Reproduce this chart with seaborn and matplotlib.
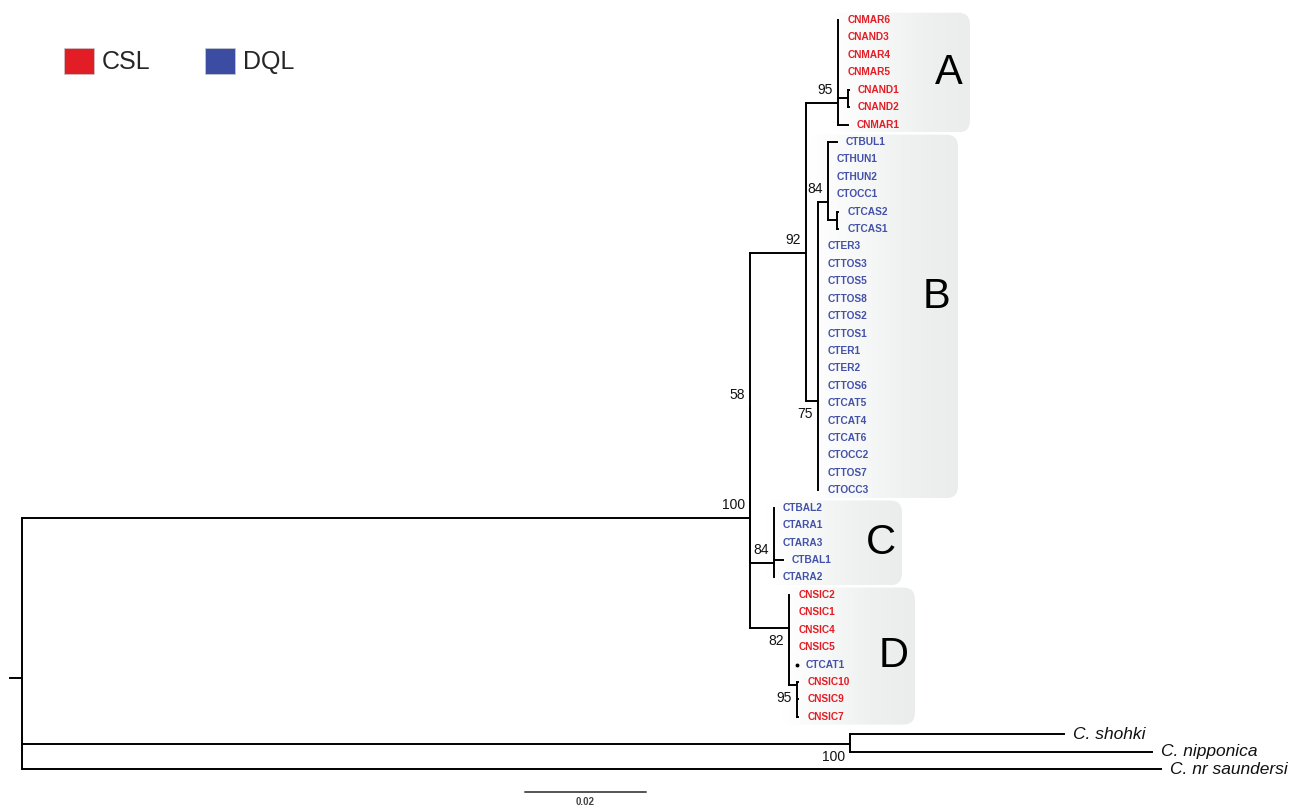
import numpy as np
import pandas as pd
import matplotlib
matplotlib.use("Agg")
import matplotlib.pyplot as plt
import seaborn as sns
from matplotlib.patches import FancyBboxPatch, Patch
from matplotlib.colors import LinearSegmentedColormap

# ---------------- data ----------------
tip_names = ["CNMAR6", "CNAND3", "CNMAR4", "CNMAR5", "CNAND1", "CNAND2", "CNMAR1",
             "CTBUL1", "CTHUN1", "CTHUN2", "CTOCC1", "CTCAS2", "CTCAS1",
             "CTER3", "CTTOS3", "CTTOS5", "CTTOS8", "CTTOS2", "CTTOS1", "CTER1", "CTER2",
             "CTTOS6", "CTCAT5", "CTCAT4", "CTCAT6", "CTOCC2", "CTTOS7", "CTOCC3",
             "CTBAL2", "CTARA1", "CTARA3", "CTBAL1", "CTARA2",
             "CNSIC2", "CNSIC1", "CNSIC4", "CNSIC5", "CTCAT1", "CNSIC10", "CNSIC9", "CNSIC7",
             "C. shohki", "C. nipponica", "C. nr saundersi"]
tip_group = (["CSL"] * 7 + ["DQL"] * 21 + ["DQL"] * 5 + ["CSL"] * 4 + ["DQL"] + ["CSL"] * 3
             + ["OUT"] * 3)
tip_parent = (["A"] * 4 + ["Aand"] * 2 + ["A"]
              + ["B84"] * 4 + ["Bcas"] * 2 + ["B"] * 15
              + ["C"] * 5
              + ["D"] * 5 + ["Dsub"] * 3
              + ["Out", "Out", "root"])
tip_depth = ([0.1349] * 4 + [0.1367] * 2 + [0.1365]
             + [0.1347, 0.1332, 0.1332, 0.1332, 0.1349, 0.1349] + [0.1316] * 15
             + [0.1243, 0.1243, 0.1243, 0.1258, 0.1243]
             + [0.1268] * 4 + [0.1281] + [0.1283] * 3
             + [0.1722, 0.1868, 0.1883])
dot_tips = ["CTCAT1"]

node_names = ["root", "ingroup", "n58", "AB", "A", "Aand", "B", "B84", "Bcas", "C", "D", "Dsub", "Out"]
node_parent = [None, "root", "ingroup", "n58", "AB", "A", "AB", "B", "B84", "n58", "ingroup", "D", "root"]
node_depth = [0.0, 0.1203, 0.1203, 0.1296, 0.1349, 0.1365, 0.1316, 0.1332, 0.1347, 0.1243, 0.1268, 0.1281, 0.1369]
node_row = [37.77, 28.59, 22.3, 13.37, 4.76, 4.5, 21.87, 10.45, 11.5, 31.15, 34.9, 38.17, 41.56]
node_support = [None, 100, 58, 92, 95, None, 75, 84, None, 84, 82, 95, 100]
support_below = ["B", "D", "Dsub", "Out"]
root_stub = -0.002

clade_labels = ["A", "B", "C", "D"]
clade_node = ["A", "B", "C", "D"]
clade_first = ["CNMAR6", "CTBUL1", "CTBAL2", "CNSIC2"]
clade_last = ["CNMAR1", "CTOCC3", "CTARA2", "CNSIC7"]

legend_labels = ["CSL", "DQL"]
scale_length = 0.02

# ---------------- layout / style ----------------
RED = "#e31d25"
BLUE = "#3b4ca2"
TEXT_BLUE = "#4351a8"
PX_X = 1 / 6050.0      # data units per pixel (x)
PX_Y = 1 / 17.42       # rows per pixel (y)

sns.set_theme(style="white")
plt.rcParams["font.family"] = ["Liberation Sans", "DejaVu Sans"]

fig = plt.figure(figsize=(12.92, 8.08), dpi=100)
ax = fig.add_axes([0, 0, 1, 1])

tip_row = {n: i for i, n in enumerate(tip_names)}
ndepth = dict(zip(node_names, node_depth))
nrow = dict(zip(node_names, node_row))

# segments
segs = []
sid = 0
def add(x0, y0, x1, y1):
    global sid
    segs.append({"seg": sid, "x": x0, "y": y0})
    segs.append({"seg": sid, "x": x1, "y": y1})
    sid += 1

children_rows = {n: [] for n in node_names}
for n, p in zip(node_names, node_parent):
    if p is None:
        continue
    children_rows[p].append(nrow[n])
    if ndepth[n] - ndepth[p] > 1e-9:
        add(ndepth[p], nrow[n], ndepth[n], nrow[n])
for t, p, d in zip(tip_names, tip_parent, tip_depth):
    r = tip_row[t]
    children_rows[p].append(r)
    if t in dot_tips:
        continue
    if d - ndepth[p] > 1e-9:
        add(ndepth[p], r, d, r)
for n in node_names:
    rows = children_rows[n]
    if rows:
        add(ndepth[n], min(rows), ndepth[n], max(rows))
add(root_stub, nrow["root"], 0.0, nrow["root"])
seg_df = pd.DataFrame(segs)

# clade background boxes
cmap = LinearSegmentedColormap.from_list("g", ["#ffffff", "#f7f8f8", "#eff1f1", "#ebeded"])
box_right = {"A": 970, "B": 958, "C": 902, "D": 915}
for lab, cn, f, l in zip(clade_labels, clade_node, clade_first, clade_last):
    x0 = ndepth[cn] - 8 * PX_X
    x1 = (box_right[lab] - 22) * PX_X
    r0 = tip_row[f] - 0.42
    r1 = tip_row[l] + 0.45
    patch = FancyBboxPatch((x0, r0), x1 - x0, r1 - r0,
                           boxstyle=f"round,pad=0,rounding_size={12 * PX_X}",
                           mutation_aspect=PX_Y / PX_X,
                           facecolor="none", edgecolor="none", zorder=0)
    ax.add_patch(patch)
    im = ax.imshow(np.linspace(0, 1, 256)[None, :], extent=(x0, x1, r1, r0), cmap=cmap,
                   aspect="auto", zorder=0, interpolation="bilinear")
    im.set_clip_path(patch)
    cx = x1 - 21 * PX_X
    cy = (r0 + r1) / 2
    if lab == "B":
        cy = 15.9
    ax.text(cx, cy, lab, ha="center", va="center", fontsize=30, color="black", zorder=3)

sns.lineplot(data=seg_df, x="x", y="y", units="seg", estimator=None, sort=False,
             color="black", lw=1.4, legend=False, ax=ax)
for line in ax.get_lines():
    line.set_solid_capstyle("projecting")

# dot tips
for t, p, d in zip(tip_names, tip_parent, tip_depth):
    if t in dot_tips:
        ax.plot([d], [tip_row[t]], marker="o", ms=1.8, color="black", lw=0)

# tip labels
for t, g, d in zip(tip_names, tip_group, tip_depth):
    r = tip_row[t]
    if g == "OUT":
        ax.annotate(t, (d, r), xytext=(9, 0), textcoords="offset pixels", va="center", ha="left",
                    fontsize=12.5, fontstyle="italic", color="#111111")
    else:
        ax.annotate(t, (d, r), xytext=(9, 0), textcoords="offset pixels", va="center", ha="left",
                    fontsize=7.3, fontweight="bold", color=RED if g == "CSL" else TEXT_BLUE)

# support values
for n, s in zip(node_names, node_support):
    if s is None:
        continue
    dy = -13 if n in support_below else 13
    ax.annotate(str(s), (ndepth[n], nrow[n]), xytext=(-5, dy), textcoords="offset pixels",
                ha="right", va="center", fontsize=10, color="#111111")

# scale bar
sb_x0 = (525 - 22) * PX_X
ax.plot([sb_x0, sb_x0 + scale_length], [44.32, 44.32], color="#555555", lw=1.4)
ax.text(sb_x0 + scale_length / 2, 44.9, f"{scale_length:.2f}", ha="center", va="center",
        fontsize=7, fontweight="bold", color="#444444")

# legend
handles = [Patch(facecolor=RED, edgecolor="#c9c9c9", lw=0.5, label=legend_labels[0]),
           Patch(facecolor=BLUE, edgecolor="#c9c9c9", lw=0.5, label=legend_labels[1])]
ax.legend(handles=handles, loc="upper left", bbox_to_anchor=(64 / 1292, 1 - 48 / 808),
          bbox_transform=fig.transFigure, ncol=2, frameon=False, fontsize=18,
          handlelength=1.2, handleheight=1.2, handletextpad=0.3, columnspacing=2.2,
          borderpad=0, borderaxespad=0)

ax.set_xlim(-22 * PX_X, 1270 * PX_X)
ax.set_ylim((808 - 20) * PX_Y, -20 * PX_Y)
ax.axis("off")

fig.savefig("out.png", dpi=100)
